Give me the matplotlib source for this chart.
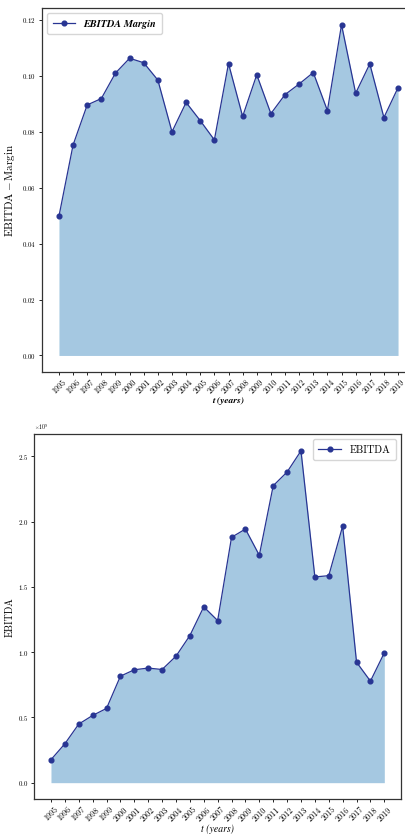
import matplotlib
matplotlib.use("Agg")
import matplotlib.pyplot as plt
from matplotlib.font_manager import FontProperties

plt.rcParams.update({
    "font.family": "serif",
    "font.serif": ["cmr10"],
    "mathtext.fontset": "cm",
    "axes.formatter.use_mathtext": True,
    "axes.unicode_minus": False,
})

years = list(range(1995, 2020))
year_labels = [str(y) for y in years]

ebitda_margin = [0.0498, 0.0753, 0.0896, 0.0919, 0.1010, 0.1063, 0.1047, 0.0985,
                 0.0800, 0.0905, 0.0840, 0.0771, 0.1044, 0.0855, 0.1004, 0.0865,
                 0.0933, 0.0971, 0.1012, 0.0876, 0.1183, 0.0938, 0.1043, 0.0851,
                 0.0958]

ebitda = [0.176e9, 0.298e9, 0.449e9, 0.515e9, 0.569e9, 0.816e9, 0.865e9, 0.878e9,
          0.867e9, 0.969e9, 1.127e9, 1.347e9, 1.242e9, 1.880e9, 1.943e9, 1.742e9,
          2.275e9, 2.380e9, 2.542e9, 1.576e9, 1.586e9, 1.966e9, 0.923e9, 0.778e9,
          0.995e9]

line_color = "#283593"

fig = plt.figure(figsize=(4.05, 8.35), dpi=100)
ax1 = fig.add_axes([0.1037, 0.5545, 0.921, 0.4357])
ax2 = fig.add_axes([0.0847, 0.0428, 0.9054, 0.4371])


def draw(ax, values):
    ax.fill_between(years, 0, values, color="tab:blue", alpha=0.4, linewidth=0)
    line, = ax.plot(years, values, color=line_color, marker="o", markersize=3.4,
                    linewidth=0.9)
    ax.set_xticks(years)
    ax.set_xticklabels(year_labels, rotation=45)
    ax.tick_params(axis="x", labelsize=5.8, length=2.5, width=0.6, pad=2)
    ax.tick_params(axis="y", labelsize=5.0, length=2.5, width=0.6, pad=2)
    for s in ax.spines.values():
        s.set_linewidth(0.9)
        s.set_color("#333333")
    return line


# EBITDA margin panel
h1 = draw(ax1, ebitda_margin)
ax1.set_ylabel(r"$\mathrm{EBITDA-Margin}$", fontsize=8, labelpad=3)
ax1.set_xlabel("t (years)", fontproperties=FontProperties(
    family="STIXGeneral", weight="bold", style="italic", size=6.8), labelpad=1)
ax1.legend([h1], ["EBITDA Margin"], loc="upper left",
           prop=FontProperties(family="STIXGeneral", weight="bold",
                               style="italic", size=7.4),
           handlelength=2.2, borderpad=0.55)

# EBITDA panel
h2 = draw(ax2, ebitda)
ax2.set_ylabel("EBITDA", fontsize=7.2, labelpad=2)
ax2.set_xlabel("t (years)", fontproperties=FontProperties(
    family="STIXGeneral", style="italic", size=7), labelpad=1)
ax2.yaxis.get_offset_text().set_fontsize(4.2)
ax2.legend([h2], ["EBITDA"], loc="upper right", fontsize=7.4,
           handlelength=2.2, borderpad=0.55)

fig.savefig("out.png", dpi=100)
